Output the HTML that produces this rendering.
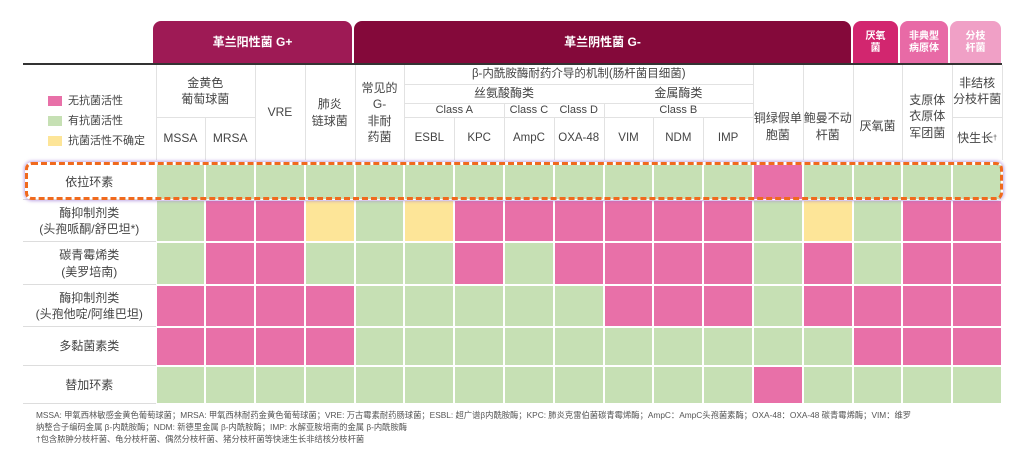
<!DOCTYPE html>
<html><head><meta charset="utf-8">
<style>
body{margin:0;width:1022px;height:464px;background:#fff;position:relative;overflow:hidden;font-family:"Liberation Sans","Noto Sans CJK SC",sans-serif;color:#444}
.a{position:absolute;box-sizing:border-box}
.t{position:absolute;display:flex;align-items:center;justify-content:center;text-align:center;line-height:1.35;font-size:12px;color:#444}
.band{position:absolute;border-radius:8px 8px 0 0;color:#fff;font-weight:bold;display:flex;align-items:center;justify-content:center;text-align:center;line-height:1.2}
.vl{position:absolute;width:1px;background:#e2e2e2}
.hl{position:absolute;height:1px;background:#e2e2e2}
.foot{position:absolute;left:36px;font-size:8.3px;color:#555;white-space:nowrap}
</style></head><body>
<div id="root"></div>
<script>
const columns=["MSSA","MRSA","VRE","肺炎链球菌","常见G-非耐药菌","ESBL","KPC","AmpC","OXA-48","VIM","NDM","IMP","铜绿假单胞菌","鲍曼不动杆菌","厌氧菌","支原体衣原体军团菌","非结核分枝杆菌快生长"];
const rowNames=["依拉环素","酶抑制剂类(头孢哌酮/舒巴坦*)","碳青霉烯类(美罗培南)","酶抑制剂类(头孢他啶/阿维巴坦)","多黏菌素类","替加环素"];
const rowLabels=[["依拉环素"],["酶抑制剂类","(头孢哌酮/舒巴坦*)"],["碳青霉烯类","(美罗培南)"],["酶抑制剂类","(头孢他啶/阿维巴坦)"],["多黏菌素类"],["替加环素"]];
// 0 = no activity, 1 = active, 2 = uncertain
const row1=[1,1,1,1,1,1,1,1,1,1,1,1,0,1,1,1,1];
const row2=[1,0,0,2,1,2,0,0,0,0,0,0,1,2,1,0,0];
const row3=[1,0,0,1,1,1,0,1,0,0,0,0,1,0,1,0,0];
const row4=[0,0,0,0,1,1,1,1,1,0,0,0,1,0,0,0,0];
const row5=[0,0,0,0,1,1,1,1,1,1,1,1,1,1,0,0,0];
const row6=[1,1,1,1,1,1,1,1,1,1,1,1,0,1,1,1,1];
const values=[row1,row2,row3,row4,row5,row6];
const legendLabels=["无抗菌活性","有抗菌活性","抗菌活性不确定"];

const colors=["#e870a8","#c6e0b4","#fde598"];
const X0=155.5,X1=1002,colW=(X1-X0)/columns.length;
const rowY=[165,200,242,285,327,366,404];
const xAt=i=>X0+i*colW;
const root=document.getElementById('root');
function mk(cls,st,txt){const d=document.createElement('div');d.className=cls;Object.assign(d.style,st);if(txt!==undefined)d.innerHTML=txt;root.appendChild(d);return d;}

const bands=[["革兰阳性菌 G+",153,352,"#9e1a55",12],["革兰阴性菌 G-",354,851,"#84093a",12],["厌氧<br>菌",853,898,"#d2266f",10],["非典型<br>病原体",900,948,"#e86aa6",10],["分枝<br>杆菌",950,1001,"#f0a0c6",10]];
bands.forEach((b,i)=>{const d=mk('band',{left:b[1]+'px',width:(b[2]-b[1])+'px',top:'21px',height:'43px',background:b[3],fontSize:b[4]+'px'},b[0]);

});
const blk=mk('a',{left:'23px',top:'63px',width:'979px',height:'2px',background:'#333'});



legendLabels.forEach((l,i)=>{const sw=mk('a',{left:'48px',top:(96+i*20)+'px',width:'14px',height:'10px',background:colors[i]});


const t=mk('t',{left:'68px',top:(93+i*20)+'px',height:'16px',fontSize:'11px',justifyContent:'flex-start'},l);

});

function hcell(c0,c1,y0,y1,txt,name,fs){const t=mk('t',{left:xAt(c0)+'px',width:(xAt(c1)-xAt(c0))+'px',top:y0+'px',height:(y1-y0)+'px',fontSize:(fs||12)+'px'},txt);

}
hcell(0,2,65,117,"金黄色<br>葡萄球菌","hdr-staph");
hcell(0,1,117,160,"MSSA","hdr-mssa");hcell(1,2,117,160,"MRSA","hdr-mrsa");
hcell(2,3,65,160,"VRE","hdr-vre");
hcell(3,4,65,160,"肺炎<br>链球菌","hdr-pneumo");
hcell(4,5,65,160,"常见的<br>G-<br>非耐<br>药菌","hdr-common-gneg");
hcell(5,12,65,84,"β-内酰胺酶耐药介导的机制(肠杆菌目细菌)","hdr-beta-lactamase",11.5);
hcell(5,9,84,103,"丝氨酸酶类","hdr-serine");hcell(9,12,84,103,"金属酶类","hdr-metallo");
hcell(5,7,103,117,"Class A","hdr-class-a",11);hcell(7,8,103,117,"Class C","hdr-class-c",11);hcell(8,9,103,117,"Class D","hdr-class-d",11);hcell(9,12,103,117,"Class B","hdr-class-b",11);
["ESBL","KPC","AmpC","OXA-48","VIM","NDM","IMP"].forEach((s,i)=>hcell(5+i,6+i,117,160,s,"hdr-"+s.toLowerCase(),11.5));
hcell(12,13,65,160,"<div style='margin-top:28px'>铜绿假单<br>胞菌</div>","hdr-pseudomonas");
hcell(13,14,65,160,"<div style='margin-top:28px'>鲍曼不动<br>杆菌</div>","hdr-acinetobacter");
hcell(14,15,65,160,"<div style='margin-top:28px'>厌氧菌</div>","hdr-anaerobe");
hcell(15,16,65,160,"<div style='margin-top:8px'>支原体<br>衣原体<br>军团菌</div>","hdr-atypical");
hcell(16,17,65,117,"非结核<br>分枝杆菌","hdr-ntm");
hcell(16,17,117,160,"快生长<sup style='font-size:7px'>†</sup>","hdr-rapid");

[0,1,2,3,4,5,6,7,8,9,10,11,12,13,14,15,16,17].forEach(i=>{let top=65;
if([6,8,10,11].includes(i))top=117; if(i===7||i===9)top=103;
if(i===1)top=117;
const v=mk('vl',{left:xAt(i)+'px',top:top+'px',height:(160-top)+'px'});

});
[[5,12,84],[5,12,103],[5,12,117],[0,2,117],[16,17,117]].forEach(h=>{const l=mk('hl',{left:xAt(h[0])+'px',width:(xAt(h[1])-xAt(h[0]))+'px',top:h[2]+'px'});

});

values.forEach((row,r)=>{
 const lab=mk('t',{left:'23px',width:(X0-23)+'px',top:rowY[r]+'px',height:(rowY[r+1]-rowY[r])+'px',fontSize:'12px'},rowLabels[r].join('<br>'));
 
 
 const hl=mk('hl',{left:'23px',width:(X0-23)+'px',top:(rowY[r+1]-1)+'px',background:'#ddd'});
 
 
 row.forEach((v,c)=>{const cell=mk('a',{left:xAt(c)+'px',width:colW+'px',top:rowY[r]+'px',height:(rowY[r+1]-rowY[r])+'px',background:colors[v],border:'1px solid #fff',borderTopWidth:r?'1px':'0'});
 
 });
});
const hb=mk('a',{left:'25px',top:'162px',width:'978px',height:'38px',border:'3px dashed #f06a1e',borderRadius:'7px',boxShadow:'0 0 3px 1px rgba(150,110,210,.6)'});



const f=["MSSA: 甲氧西林敏感金黄色葡萄球菌；MRSA: 甲氧西林耐药金黄色葡萄球菌；VRE: 万古霉素耐药肠球菌；ESBL: 超广谱β内酰胺酶；KPC: 肺炎克雷伯菌碳青霉烯酶；AmpC：AmpC头孢菌素酶；OXA-48：OXA-48 碳青霉烯酶；VIM：维罗",
"纳整合子编码金属 β-内酰胺酶；NDM: 新德里金属 β-内酰胺酶；IMP: 水解亚胺培南的金属 β-内酰胺酶",
"†包含脓肿分枝杆菌、龟分枝杆菌、偶然分枝杆菌、猪分枝杆菌等快速生长非结核分枝杆菌"];
f.forEach((s,i)=>{const d=mk('foot',{top:(409+i*12)+'px'},s);

});
</script>
</body></html>
